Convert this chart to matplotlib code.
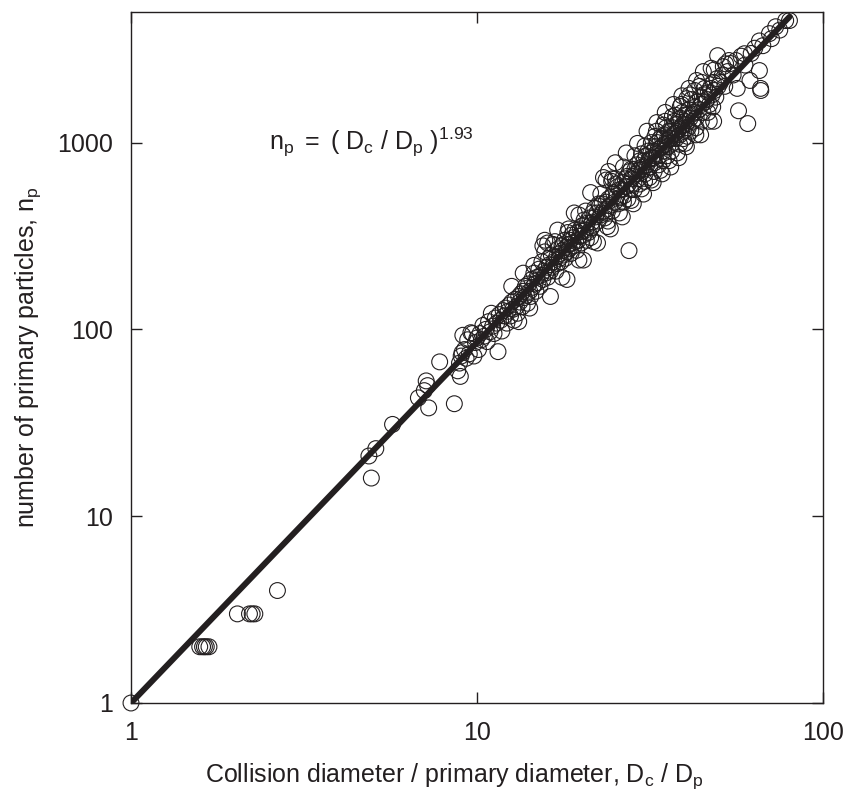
import numpy as np
import matplotlib
matplotlib.use("Agg")
import matplotlib.pyplot as plt
from matplotlib.ticker import FixedLocator, NullLocator

plt.rcParams['font.family'] = ['Liberation Sans', 'DejaVu Sans']
plt.rcParams['mathtext.fontset'] = 'custom'
plt.rcParams['mathtext.rm'] = 'Liberation Sans'
plt.rcParams['mathtext.it'] = 'Liberation Sans'

# fractal fit
prefactor = 1.0
exponent = 1.93
fit_x = [1.0, 80.0]

# scattered aggregates: collision diameter ratio and number of primaries
dc_low = [1.0, 1.58, 1.61, 1.63, 1.65, 1.68, 2.03, 2.2, 2.24, 2.28, 2.65,
          4.87, 4.95, 5.1, 5.7, 6.77, 7.04, 7.2, 7.13, 7.25, 7.8, 8.6]
np_low = [1, 2, 2, 2, 2, 2, 3, 3, 3, 3, 4,
          21, 16, 23, 31, 43, 47, 50, 53, 38, 67, 40]

dc_mid = [8.8, 8.9, 9.0, 8.95, 9.05, 9.1, 9.6, 10.4, 11.0, 11.2, 11.5, 11.9, 12.8,
          9.2, 9.3, 9.4, 9.5, 9.7, 9.8, 9.9, 10.0,
          10.1, 10.2, 10.3, 10.5, 10.6, 10.7, 10.8, 10.9,
          11.1, 11.3, 11.4, 11.6, 11.7, 11.8, 12.0, 12.1, 12.2,
          12.3, 12.4, 12.5, 12.6, 12.7, 12.9, 13.0, 13.1, 13.2,
          13.3, 13.4, 13.5, 13.6, 13.7, 13.8, 13.9, 14.0, 14.1, 14.2,
          14.3, 14.4, 14.5, 14.6, 14.7, 14.8, 14.9, 15.0, 15.1, 15.2,
          12.6, 13.6, 14.6, 13.2, 14.2]
np_mid = [60, 66, 72, 56, 75, 93, 96, 105, 122, 95, 76, 126, 112,
          78, 70, 88, 74, 95, 72, 85, 90,
          78, 95, 88, 92, 100, 86, 110, 97,
          104, 115, 108, 120, 112, 98, 118, 130, 108,
          125, 135, 118, 140, 128, 145, 132, 122, 150,
          140, 155, 132, 160, 148, 170, 152, 138, 175, 160,
          150, 185, 168, 200, 175, 160, 190, 178, 210, 170,
          170, 200, 220, 110, 130]

dc_dense = [15.3, 15.4, 15.5, 15.6, 15.7, 15.8, 15.9, 16.0, 16.1, 16.2, 16.3, 15.5, 15.7,
            16.4, 16.5, 16.6, 16.7, 16.8, 16.9, 17.0, 17.1, 17.2, 17.3,
            17.4, 17.5, 17.6, 17.7, 17.8, 17.9, 18.0, 18.1, 18.2, 18.3, 18.4,
            18.5, 18.6, 18.7, 18.8, 18.9, 19.0, 19.1, 19.2, 19.3, 19.4,
            19.5, 19.6, 19.7, 19.8, 19.9, 20.0, 20.1, 20.2, 20.3, 20.4,
            20.6, 20.8, 21.0, 21.2, 21.4, 21.6, 21.8, 22.0, 20.7, 21.3, 21.9, 21.5,
            22.2, 22.4, 22.6, 22.8, 23.0, 23.2, 23.4, 23.6, 23.8, 24.0, 22.5, 23.5, 23.9,
            24.2, 24.4, 24.6, 24.8, 25.0, 25.2, 25.4, 25.6, 25.8, 26.0, 24.5, 25.1, 25.5,
            23.6, 24.0,
            26.2, 26.4, 26.6, 26.8, 27.0, 27.2, 27.4, 27.5, 27.6, 27.8, 28.0, 26.5, 27.3, 27.9,
            28.2, 28.4, 28.6, 28.8, 29.0, 29.2, 29.4, 29.6, 29.8, 30.0, 28.5, 29.5, 29.9,
            30.2, 30.4, 30.6, 30.8, 31.0, 31.2, 31.4, 31.6, 31.8, 32.0, 30.5, 31.5, 31.9,
            32.2, 32.4, 32.6, 32.8, 33.0, 33.2, 33.4, 33.6, 33.8, 34.0, 32.5, 33.5, 33.0,
            34.2, 34.4, 34.6, 34.8, 35.0, 35.2, 35.4, 35.6, 35.8, 36.0, 34.5, 35.5, 35.0,
            36.2, 36.4, 36.6, 36.8, 37.0, 37.2, 37.4, 37.6, 37.8, 38.0, 36.5, 37.5,
            38.2, 38.4, 38.6, 38.8, 39.0, 39.2, 39.4, 39.6, 39.8, 40.0, 38.5, 39.5, 39.0,
            40.2, 40.5, 40.8, 41.0, 41.3, 41.6, 41.9, 42.0, 40.6, 41.5, 41.2,
            42.3, 42.7, 43.0, 43.4, 43.8, 44.2, 44.6, 45.0, 45.4, 45.8, 43.0, 44.5, 45.5, 44.0,
            46.2, 46.6, 47.0, 47.4, 47.8, 48.2, 48.6, 49.0, 49.4, 49.6, 47.5, 48.5, 46.5, 49.8, 48.0]
np_dense = [195, 230, 185, 205, 260, 200, 215, 190, 240, 222, 205, 280, 300,
            250, 215, 285, 230, 295, 205, 245, 225, 270, 240,
            255, 230, 280, 265, 250, 300, 240, 275, 260, 330, 285,
            270, 300, 255, 320, 290, 310, 280, 340, 295, 265,
            330, 300, 410, 315, 345, 290, 335, 360, 320, 385,
            340, 370, 330, 395, 350, 420, 365, 400, 300, 310, 445, 375,
            420, 380, 455, 410, 470, 430, 395, 480, 440, 500, 470, 420, 380,
            460, 510, 430, 540, 480, 600, 520, 470, 560, 510, 620, 640, 580,
            630, 700,
            560, 610, 520, 640, 580, 660, 600, 264, 700, 560, 640, 480, 500, 720,
            660, 600, 720, 680, 760, 640, 710, 800, 690, 740, 560, 600, 870,
            720, 800, 680, 850, 760, 900, 810, 740, 880, 830, 620, 650, 1000,
            820, 900, 780, 950, 870, 1000, 920, 850, 1050, 940, 700, 760, 1150,
            950, 1050, 900, 1100, 980, 1200, 1030, 950, 1150, 1060, 800, 850, 1300,
            1050, 1150, 990, 1200, 1100, 1300, 1120, 1050, 1250, 1150, 900, 1400,
            1180, 1280, 1100, 1350, 1220, 1450, 1250, 1150, 1400, 1300, 980, 1050, 1600,
            1250, 1400, 1200, 1500, 1350, 1700, 1420, 1300, 1080, 1150, 1800,
            1450, 1550, 1350, 1650, 1500, 1750, 1600, 1450, 1800, 1650, 1200, 1300, 1950, 2000,
            1700, 1850, 1600, 1950, 1800, 2100, 1900, 1750, 2200, 2920, 2500, 2450, 1450, 2000, 1550]

# points on the edges of the band
dc_upper = [16.0, 17.1, 18.4, 19.1, 20.6, 21.3, 22.8, 23.2, 24.6, 25.1, 26.5, 27.0,
            28.6, 29.1, 30.6, 31.0, 32.7, 33.1, 34.6, 35.0, 36.7, 37.0, 38.7, 39.1,
            40.4, 41.0, 42.6, 43.1, 44.6, 45.1]
np_upper = [290, 340, 345, 420, 430, 540, 530, 650, 640, 780, 740, 880,
            850, 990, 960, 1150, 1080, 1280, 1240, 1450, 1380, 1600, 1560, 1780,
            1720, 1950, 1900, 2150, 2100, 2400]
dc_lower = [16.3, 17.6, 18.2, 19.7, 20.3, 21.7, 22.3, 23.8, 24.3, 25.8, 26.3, 27.9,
            28.3, 29.9, 30.3, 31.9, 32.3, 33.9, 34.3, 35.9, 36.3, 37.9, 38.3, 39.9,
            40.3, 42.9, 44.3, 46.9, 48.3]
np_lower = [150, 190, 185, 235, 235, 295, 290, 355, 345, 420, 400, 490,
            470, 565, 530, 630, 610, 710, 680, 800, 740, 880, 830, 990,
            950, 1100, 1100, 1300, 1300]

dc_high = [50.5, 51.2, 52.0, 52.3, 53.0, 54.0, 55.0, 56.0, 56.5, 57.0, 58.0, 59.3,
           59.5, 60.6, 51.5, 53.5,
           61.5, 62.0, 63.5, 65.5, 66.0, 66.1, 65.5, 67.0, 70.0, 71.0, 73.0, 75.0, 80.0, 78.0]
np_high = [2100, 2300, 2000, 2640, 2400, 2650, 2300, 2750, 1950, 1480, 2900, 2990,
           2600, 1264, 2550, 2750,
           2150, 3000, 3200, 3500, 1950, 1900, 2430, 3300, 3830, 3600, 4170, 4000, 4500, 4500]

dc = dc_low + dc_mid + dc_dense + dc_upper + dc_lower + dc_high
n_pp = np_low + np_mid + np_dense + np_upper + np_lower + np_high

fig = plt.figure(figsize=(8.51, 7.96), dpi=100)
ax = fig.add_axes([131 / 851, 1 - 703 / 796, (823 - 131) / 851, (703 - 12) / 796])

ax.scatter(dc, n_pp, s=130, facecolors='none', edgecolors='#231f20',
           linewidths=0.8, zorder=2, clip_on=False)

fx = np.array(fit_x)
ax.plot(fx, prefactor * fx ** exponent, color='#231f20', lw=4.3,
        solid_capstyle='round', zorder=3)

ax.set_xscale('log')
ax.set_yscale('log')
ax.set_xlim(1, 100)
ax.set_ylim(1, 5000)

ax.xaxis.set_major_locator(FixedLocator([1, 10, 100]))
ax.yaxis.set_major_locator(FixedLocator([1, 10, 100, 1000]))
ax.xaxis.set_minor_locator(NullLocator())
ax.yaxis.set_minor_locator(NullLocator())
ax.set_xticklabels(['1', '10', '100'])
ax.set_yticklabels(['1', '10', '100', '1000'])
ax.tick_params(direction='in', length=8, width=1, labelsize=18,
               top=True, right=True, pad=13, colors='#231f20')
for sp in ax.spines.values():
    sp.set_linewidth(1.0)
    sp.set_color('#231f20')

ax.set_xlabel(r'Collision diameter / primary diameter, D$\mathregular{_c}$ / D$\mathregular{_p}$',
              fontsize=18, color='#231f20')
ax.xaxis.set_label_coords(0.468, -0.085)
ax.set_ylabel(r'number of primary particles, n$\mathregular{_p}$',
              fontsize=18, color='#231f20', labelpad=10)

ax.text(2.5, 1000,
        r'$\mathregular{n_p\ =\ (\ D_c\ /\ D_p\ )^{1.93}}$',
        fontsize=18, color='#231f20', va='center', ha='left')

fig.savefig('out.png', dpi=100)
